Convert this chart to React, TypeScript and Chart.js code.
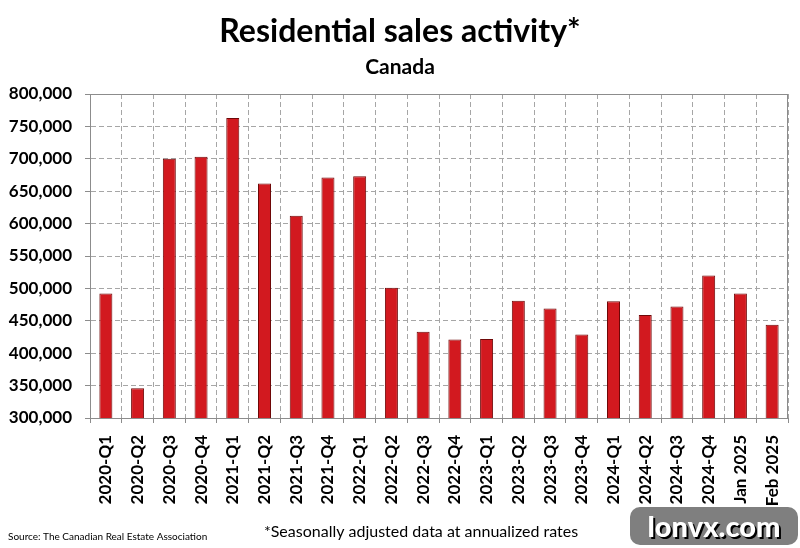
import React, { useEffect, useRef } from "react";
import { Chart, registerables } from "chart.js";

Chart.register(...registerables);

const TITLE = "Residential sales activity*";
const SUBTITLE = "Canada";
const FOOTNOTE = "*Seasonally adjusted data at annualized rates";
const SOURCE = "Source: The Canadian Real Estate Association";
const WATERMARK = "lonvx.com";

const categories = [
  "2020-Q1", "2020-Q2", "2020-Q3", "2020-Q4",
  "2021-Q1", "2021-Q2", "2021-Q3", "2021-Q4",
  "2022-Q1", "2022-Q2", "2022-Q3", "2022-Q4",
  "2023-Q1", "2023-Q2", "2023-Q3", "2023-Q4",
  "2024-Q1", "2024-Q2", "2024-Q3", "2024-Q4",
  "Jan 2025", "Feb 2025",
];

const sales = [
  492000, 346000, 700000, 703000,
  763000, 662000, 612000, 671000,
  673000, 501000, 433000, 421000,
  422000, 481000, 469000, 429000,
  480000, 459000, 472000, 520000,
  492000, 444000,
];

const Y_MIN = 300000;
const Y_MAX = 800000;
const Y_STEP = 50000;

const FONT = "Lato, 'Open Sans', sans-serif";

export default function App() {
  const ref = useRef<HTMLCanvasElement>(null);

  useEffect(() => {
    if (!ref.current) return;
    const decor = {
      id: "decor",
      afterDraw(chart: any) {
        const { ctx, chartArea: a } = chart;
        ctx.save();
        ctx.strokeStyle = "#8c8c8c";
        ctx.lineWidth = 1;
        ctx.setLineDash([]);
        const l = Math.round(a.left) + 0.5;
        const t = Math.round(a.top) + 0.5;
        const r = Math.round(a.right) - 0.5;
        const b = Math.round(a.bottom) + 0.5;
        ctx.strokeRect(l, t, r - l, b - t);
        ctx.fillStyle = "#000";
        ctx.textAlign = "center";
        ctx.textBaseline = "middle";
        ctx.font = `bold 32px ${FONT}`;
        ctx.fillText(TITLE, 400, 32);
        ctx.font = `bold 21px ${FONT}`;
        ctx.fillText(SUBTITLE, 400, 67);
        ctx.font = `16px ${FONT}`;
        ctx.fillText(FOOTNOTE, 421, 532);
        ctx.textAlign = "left";
        ctx.font = `10px ${FONT}`;
        ctx.fillText(SOURCE, 8, 537);
        ctx.restore();
      },
    };

    const chart = new Chart(ref.current, {
      type: "bar",
      data: {
        labels: categories,
        datasets: [
          {
            data: sales,
            backgroundColor: "#d2191f",
            borderColor: "#6e0808",
            borderWidth: 1,
            barPercentage: 0.41,
            categoryPercentage: 1,
          },
        ],
      },
      options: {
        animation: false,
        responsive: false,
        maintainAspectRatio: false,
        layout: { padding: { top: 94, left: 0, right: 12, bottom: 0 } },
        plugins: {
          legend: { display: false },
          tooltip: { enabled: false },
          title: { display: false },
        },
        scales: {
          x: {
            offset: true,
            grid: {
              offset: true,
              color: "#a6a6a6",
              lineWidth: 1,
              drawTicks: true,
              tickLength: 5,
              tickColor: "#8c8c8c",
            },
            border: { display: true, color: "#8c8c8c", dash: [5, 3] },
            ticks: {
              color: "#000",
              font: { family: FONT, size: 17, weight: "bold" },
              minRotation: 90,
              maxRotation: 90,
              padding: 12,
              autoSkip: false,
            },
            afterFit(scale: any) {
              scale.height = 130;
              scale.paddingLeft = 0;
              scale.paddingRight = 0;
            },
          },
          y: {
            min: Y_MIN,
            max: Y_MAX,
            grid: {
              color: "#a6a6a6",
              lineWidth: 1,
              drawTicks: true,
              tickLength: 5,
              tickColor: "#8c8c8c",
            },
            border: { display: true, color: "#8c8c8c", dash: [5, 3] },
            ticks: {
              stepSize: Y_STEP,
              color: "#000",
              font: { family: FONT, size: 17, weight: "bold" },
              padding: 13,
              callback: (v: any) => Number(v).toLocaleString("en-US"),
            },
            afterFit(scale: any) {
              scale.width = 90;
            },
          },
        },
      },
      plugins: [decor],
    });
    return () => chart.destroy();
  }, []);

  return (
    <div style={{ position: "fixed", left: 0, top: 0, width: 800, height: 548, background: "#fff" }}>
      <canvas ref={ref} width={800} height={548} style={{ display: "block" }} />
      <div
        style={{
          position: "absolute",
          left: 630,
          top: 507,
          width: 168,
          height: 38,
          borderRadius: 10,
          background: "#7f7f7f",
          color: "#fff",
          fontFamily: FONT,
          fontWeight: 900,
          fontSize: 29,
          lineHeight: "38px",
          textAlign: "center",
          textShadow: "2px 2px 0 #000",
        }}
      >
        {WATERMARK}
      </div>
    </div>
  );
}
